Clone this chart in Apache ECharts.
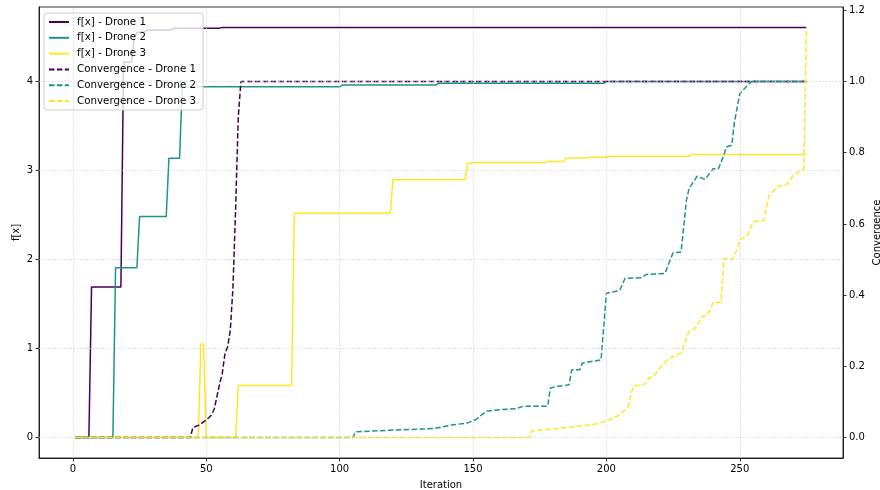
<!DOCTYPE html>
<html>
<head>
<meta charset="utf-8">
<script src="https://cdn.jsdelivr.net/npm/echarts@6/dist/echarts.min.js"></script>
<style>html,body{margin:0;padding:0;background:#fff}#c{width:880px;height:490px}</style>
</head>
<body>
<div id="c"></div>
<script>
// ---- data ([iteration, value]) ----
const seriesNames = ['f[x] - Drone 1','f[x] - Drone 2','f[x] - Drone 3',
  'Convergence - Drone 1','Convergence - Drone 2','Convergence - Drone 3'];
const xTicks = [0, 50, 100, 150, 200, 250];
const fTicks = [0, 1, 2, 3, 4];
const convTicks = [0, 0.2, 0.4, 0.6, 0.8, 1.0, 1.2];

const drone1F = [[1,0],[6,0],[7,1.69],[18,1.69],[19,4.22],[22,4.22],[23,4.50],[24,4.55],[27,4.56],[28,4.58],[37,4.58],[38,4.60],[55,4.60],[56,4.607],[275,4.607]];
const drone2F = [[1,0],[15,0],[16,1.907],[24,1.907],[25,2.483],[35,2.483],[36,3.139],[40,3.139],[41,3.94],[100,3.94],[101,3.96],[136,3.96],[137,3.98],[199,3.98],[200,4.0],[275,4.0]];
const drone3F = [[1,0],[47,0],[48,1.05],[49,1.05],[50,0],[61,0],[62,0.585],[82,0.585],[83,2.521],[119,2.521],[120,2.895],[147,2.895],[148,3.075],[150,3.09],[177,3.09],[178,3.10],[184,3.10],[185,3.14],[193,3.14],[194,3.15],[200,3.15],[201,3.16],[231,3.16],[232,3.18],[275,3.18]];

const drone1Conv = [[1,0],[44,0],[45,0.028],[46,0.031],[47,0.034],[48,0.038],[49,0.044],[50,0.05],[51,0.056],[52,0.064],[53,0.08],[54,0.115],[55,0.15],[56,0.18],[57,0.235],[58,0.255],[59,0.30],[60,0.42],[61,0.64],[62,0.90],[63,1.0],[275,1.0]];
const drone2Conv = [[1,0],[105,0],[106,0.016],[124,0.022],[135,0.025],[142,0.035],[148,0.041],[151,0.05],[155,0.074],[160,0.078],[166,0.081],[169,0.088],[178,0.088],[179,0.139],[182,0.144],[186,0.148],[187,0.19],[190,0.19],[191,0.209],[198,0.218],[200,0.405],[205,0.413],[207,0.447],[213,0.449],[215,0.458],[222,0.461],[223,0.482],[225,0.519],[228,0.521],[230,0.667],[231,0.699],[234,0.734],[237,0.725],[240,0.755],[242,0.755],[244,0.793],[245,0.816],[247,0.821],[248,0.886],[250,0.966],[254,0.998],[255,1.0],[275,1.0]];
const drone3Conv = [[1,0],[171,0],[172,0.018],[180,0.024],[190,0.032],[196,0.038],[200,0.046],[204,0.06],[208,0.083],[210,0.144],[214,0.148],[216,0.167],[218,0.174],[220,0.195],[223,0.221],[228,0.237],[231,0.30],[233,0.304],[236,0.34],[238,0.345],[240,0.379],[243,0.379],[244,0.503],[247,0.500],[249,0.527],[250,0.555],[253,0.569],[255,0.606],[259,0.61],[261,0.68],[264,0.704],[268,0.713],[270,0.737],[274,0.755],[275,1.1518]];

const colors = ['#440154', '#21918c', '#fde725'];
const FONT = 'DejaVu Sans';
const gridLine = {type: [1.2, 2], color: '#c8c8c8', width: 0.8};

const chart = echarts.init(document.getElementById('c'), null, {renderer: 'canvas'});

function lineSeries(name, data, color, yIdx, dashed) {
  return {
    name: name, type: 'line', data: data, xAxisIndex: 0, yAxisIndex: yIdx,
    showSymbol: false, symbol: 'none', smooth: false, animation: false,
    lineStyle: {color: color, width: 1.5, type: dashed ? [5.5, 2.4] : 'solid'},
    itemStyle: {color: color},
    z: dashed ? 4 : 3
  };
}

const axisLineStyle = {show: true, onZero: false, lineStyle: {color: '#000', width: 0.8}};

const option = {
  animation: false,
  backgroundColor: '#fff',
  textStyle: {fontFamily: FONT},
  grid: {left: 39, right: 37, top: 7, bottom: 32, containLabel: false, outerBoundsMode: 'none',
         show: true, borderColor: '#000', borderWidth: 0.8, backgroundColor: 'transparent'},
  legend: {
    data: seriesNames, orient: 'vertical', left: 44, top: 13,
    padding: [4, 7, 4, 4], itemWidth: 20, itemHeight: 11, itemGap: 5.8,
    itemStyle: {opacity: 0, borderWidth: 0},
    backgroundColor: 'rgba(255,255,255,0.8)', borderColor: '#cccccc', borderWidth: 1, borderRadius: 3,
    textStyle: {fontFamily: FONT, fontSize: 10.3, color: '#000', padding: [0, 0, 0, 3]}
  },
  xAxis: [{
    type: 'value', min: -12.7, max: 288.7,
    name: 'Iteration', nameLocation: 'middle', nameGap: 22,
    nameTextStyle: {fontFamily: FONT, fontSize: 10, color: '#000'},
    axisLine: axisLineStyle,
    axisTick: {show: true, inside: false, length: 3.5, lineStyle: {color: '#000', width: 0.8}, customValues: xTicks},
    axisLabel: {fontFamily: FONT, fontSize: 10, color: '#000', margin: 6, customValues: xTicks},
    splitLine: {show: false}
  }],
  yAxis: [{
    type: 'value', position: 'left', min: -0.2304, max: 4.8374,
    name: 'f[x]', nameLocation: 'middle', nameGap: 18, nameRotate: 90, nameMoveOverlap: false,
    nameTextStyle: {fontFamily: FONT, fontSize: 10, color: '#000'},
    axisLine: axisLineStyle,
    axisTick: {show: true, inside: false, length: 3.5, lineStyle: {color: '#000', width: 0.8}, customValues: fTicks},
    axisLabel: {fontFamily: FONT, fontSize: 10, color: '#000', margin: 6, customValues: fTicks},
    splitLine: {show: false}
  }, {
    type: 'value', position: 'right', min: -0.0576, max: 1.2094,
    name: 'Convergence', nameLocation: 'middle', nameGap: 29, nameRotate: 90, nameMoveOverlap: false,
    nameTextStyle: {fontFamily: FONT, fontSize: 10, color: '#000'},
    axisLine: axisLineStyle,
    axisTick: {show: true, inside: false, length: 3.5, lineStyle: {color: '#000', width: 0.8}, customValues: convTicks},
    axisLabel: {fontFamily: FONT, fontSize: 10, color: '#000', margin: 6, customValues: convTicks,
      formatter: function (v) { return Number(v).toFixed(1); }},
    splitLine: {show: false}
  }],
  series: [
    {
      name: '_grid', type: 'line', data: [], xAxisIndex: 0, yAxisIndex: 0, z: 1, silent: true,
      markLine: {
        silent: true, symbol: ['none', 'none'], animation: false, label: {show: false},
        lineStyle: gridLine, emphasis: {disabled: true},
        data: xTicks.map(v => ({xAxis: v})).concat(fTicks.map(v => ({yAxis: v})))
      }
    },
    lineSeries(seriesNames[0], drone1F, colors[0], 0, false),
    lineSeries(seriesNames[1], drone2F, colors[1], 0, false),
    lineSeries(seriesNames[2], drone3F, colors[2], 0, false),
    lineSeries(seriesNames[3], drone1Conv, colors[0], 1, true),
    lineSeries(seriesNames[4], drone2Conv, colors[1], 1, true),
    lineSeries(seriesNames[5], drone3Conv, colors[2], 1, true)
  ]
};
chart.setOption(option);
</script>
</body>
</html>
